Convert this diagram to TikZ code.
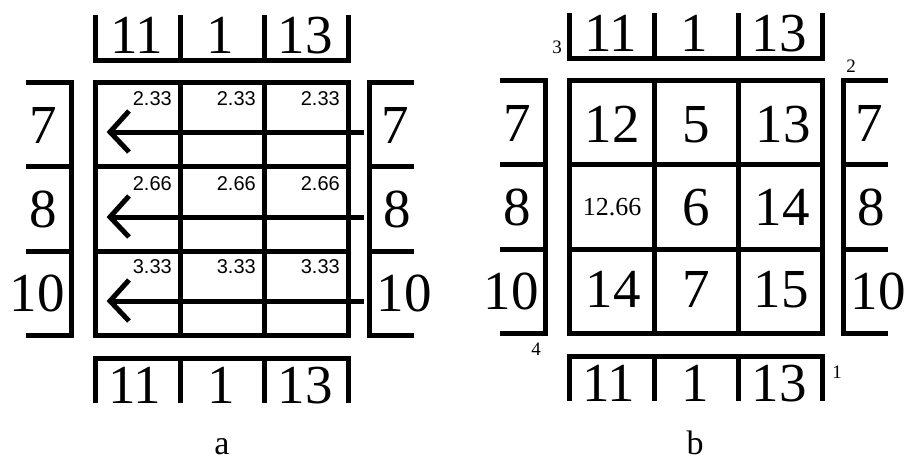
\documentclass[tikz,border=0pt]{standalone}
\usepackage{fontspec}
\setmainfont{Liberation Serif}
\newfontfamily\smallsans{Liberation Sans}
\newcommand\gridframe{%
  % top strip
  \draw[frame] (95,15) -- (95,60) -- (348,60) -- (348,15);
  \draw[frame] (180,15) -- (180,60) (264,15) -- (264,60);
  % bottom strip
  \draw[frame] (95,403) -- (95,358) -- (348,358) -- (348,403);
  \draw[frame] (180,358) -- (180,403) (264,358) -- (264,403);
  % left strip
  \draw[frame] (26,82) -- (71,82) -- (71,335) -- (26,335);
  \draw[frame] (26,166) -- (71,166) (26,251) -- (71,251);
  % right strip
  \draw[frame] (414,82) -- (369,82) -- (369,335) -- (414,335);
  \draw[frame] (369,166) -- (414,166) (369,251) -- (414,251);
  % main grid
  \draw[frame] (95,82) rectangle (348,335);
  \draw[frame] (180,82) -- (180,335) (264,82) -- (264,335)
               (95,166) -- (348,166) (95,251) -- (348,251);
}
\newcommand\stripnums[1]{%
  \node[big] (#1t1) at (137,53) {11};
  \node[big] (#1t2) at (220,53) {1};
  \node[big] (#1t3) at (305,53) {13};
  \node[big] (#1b1) at (135,403) {11};
  \node[big] (#1b2) at (221,403) {1};
  \node[big] (#1b3) at (305,403) {13};
  \node[big] (#1l1) at (43,143) {7};
  \node[big] (#1l2) at (43,227) {8};
  \node[big] (#1l3) at (37,311) {10};
  \node[big] (#1r1) at (395,143) {7};
  \node[big] (#1r2) at (397,227) {8};
  \node[big] (#1r3) at (404,311) {10};
}
\begin{document}
\begin{tikzpicture}[x=1pt,y=-1pt,
  frame/.style={line width=5pt},
  big/.style={inner sep=0pt,anchor=base,font=\fontsize{55}{60}\selectfont},
  mid/.style={inner sep=0pt,anchor=base,font=\fontsize{26}{30}\selectfont},
  tiny/.style={inner sep=0pt,anchor=base east,font=\smallsans\fontsize{20}{24}\selectfont},
  corner/.style={inner sep=0pt,anchor=base,font=\fontsize{19}{22}\selectfont},
  caption/.style={inner sep=0pt,anchor=base,font=\fontsize{34}{40}\selectfont},
  arrowline/.style={line width=5pt}]
\useasboundingbox (0,0) rectangle (905,463);

% ---------- panel a ----------
\gridframe
\stripnums{a}
\foreach \r/\y/\v in {1/105/2.33, 2/190/2.66, 3/273/3.33}{
  \node[tiny] (av\r c1) at (172,\y) {\v};
  \node[tiny] (av\r c2) at (256,\y) {\v};
  \node[tiny] (av\r c3) at (340,\y) {\v};
}
\foreach \r/\y in {1/132, 2/217, 3/301}{
  \coordinate (as\r) at (364,\y);
  \coordinate (at\r) at (110,\y);
  \draw[arrowline] (as\r) -- (at\r);
  \draw[arrowline] (at\r) ++(19,-21) -- (at\r) -- ++(19,20);
}
\node[caption] (capa) at (222,454) {a};

% ---------- panel b ----------
\begin{scope}[shift={(474,-2)}]
\gridframe
\stripnums{b}
\end{scope}
\node[big] (c11) at (612,142) {12};
\node[big] (c12) at (696,142) {5};
\node[big] (c13) at (783,142) {13};
\node[mid] (c21) at (612,215) {12.66};
\node[big] (c22) at (696,225) {6};
\node[big] (c23) at (782,225) {14};
\node[big] (c31) at (613,307) {14};
\node[big] (c32) at (696,307) {7};
\node[big] (c33) at (781,307) {15};
\node[corner] (k3) at (557,53) {3};
\node[corner] (k2) at (851,72) {2};
\node[corner] (k4) at (536,355) {4};
\node[corner] (k1) at (837,378) {1};
\node[caption] (capb) at (695,454) {b};
\end{tikzpicture}
\end{document}
